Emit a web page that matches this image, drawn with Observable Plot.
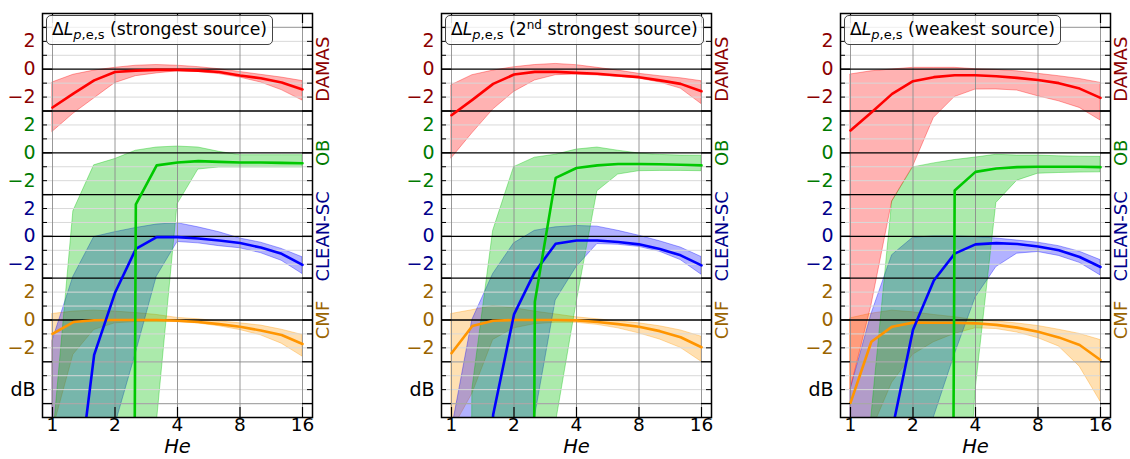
<!DOCTYPE html>
<html><head><meta charset="utf-8">
<script src="https://cdn.jsdelivr.net/npm/d3@7"></script>
<script src="https://cdn.jsdelivr.net/npm/@observablehq/plot@0.6"></script>
<style>
body{margin:0;background:#fff;font-family:"DejaVu Sans";}
#chart{position:relative;width:1130px;height:459px;overflow:hidden;background:#fff}
.panel{position:absolute;top:0;width:342px;height:459px}
.panel svg{max-width:none !important;width:342px;height:459px}
.title{position:absolute;top:15px;height:30px;box-sizing:border-box;border:1px solid #444;border-radius:5px;background:rgba(255,255,255,0.85);font-family:"DejaVu Sans";font-size:17.2px;line-height:27px;padding:0 5px;white-space:nowrap;color:#000}
.title sub{font-size:13px;vertical-align:-4px;line-height:0}
.title sup{font-size:12px;vertical-align:6px;line-height:0}
</style></head><body><div id="chart"></div>
<script>
// He axis (third-octave points)
const he = [1, 1.26, 1.587, 2, 2.52, 3.175, 4, 5.04, 6.35, 8, 10.08, 12.7, 16];
const xTicks = [1, 2, 4, 8, 16];
const methods = ["DAMAS", "OB", "CLEAN-SC", "CMF"];
const offsets = [0, -6, -12, -18];
const lineColors = ["#ff0000", "#00c800", "#0000ff", "#ff9500"];
const fillColors = ["#ff0000", "#00c000", "#0000ff", "#ff9900"];
const fillAlpha = [0.3, 0.33, 0.3, 0.3];
const labelColors = ["#8b0000", "#007a00", "#00008b", "#9a6400"];
const yTickValues = [2, 0, -2];
const yTickLabels = ["2", "0", "\u22122"];
const titles = ["strongest source", "2nd strongest source", "weakest source"];

// Panel 1: strongest source
const damasMean1 = [-2.75, -1.75, -0.8, -0.2, -0.1, -0.05, -0.05, -0.1, -0.2, -0.45, -0.65, -0.95, -1.45];
const damasHi1   = [-0.95, -0.4, -0.1, 0.1, 0.25, 0.3, 0.25, 0.15, 0.0, -0.2, -0.4, -0.6, -0.85];
const damasLo1   = [-4.5, -3.2, -2.1, -1.0, -0.5, -0.3, -0.15, -0.2, -0.35, -0.6, -0.95, -1.5, -2.25];
const obMean1    = [-300, -300, -300, -300, -3.7, -0.9, -0.7, -0.6, -0.65, -0.7, -0.7, -0.72, -0.75];
const obHi1      = [-21, -4.2, -0.9, -0.45, 0.15, 0.38, 0.45, 0.38, 0.07, -0.17, -0.17, -0.17, -0.17];
const obLo1      = [-300, -300, -300, -300, -300, -19.5, -3.7, -1.2, -1.05, -1.05, -1.05, -1.05, -1.05];
const cleanMean1 = [-300, -20.5, -8.5, -4.05, -0.9, -0.05, -0.05, -0.15, -0.3, -0.48, -0.8, -1.25, -2.05];
const cleanHi1   = [-7.5, -2.9, -0.05, 0.3, 0.6, 0.85, 0.95, 0.65, 0.3, -0.15, -0.45, -0.9, -1.5];
const cleanLo1   = [-300, -300, -300, -13.6, -8.4, -2.9, -0.4, -0.5, -0.7, -0.85, -1.2, -1.75, -2.7];
const cmfMean1   = [-1.0, -0.15, -0.02, 0, 0, 0, -0.05, -0.15, -0.3, -0.48, -0.75, -1.08, -1.72];
const cmfHi1     = [0.43, 0.6, 0.67, 0.6, 0.5, 0.36, 0.15, 0.05, -0.1, -0.24, -0.4, -0.7, -1.08];
const cmfLo1     = [-8, -2.5, -0.72, -0.24, -0.15, -0.15, -0.15, -0.25, -0.45, -0.72, -1.1, -1.7, -2.63];

// Panel 2: 2nd strongest source
const damasMean2 = [-3.3, -2.2, -1.05, -0.38, -0.19, -0.19, -0.26, -0.33, -0.45, -0.57, -0.8, -1.05, -1.58];
const damasHi2   = [-1.15, -0.43, -0.1, 0.14, 0.3, 0.38, 0.29, 0.1, -0.1, -0.33, -0.5, -0.65, -0.86];
const damasLo2   = [-6.4, -4.6, -2.9, -1.63, -0.81, -0.43, -0.38, -0.45, -0.55, -0.67, -0.95, -1.39, -2.5];
const obMean2    = [-300, -300, -300, -300, -10.7, -1.8, -1.09, -0.9, -0.8, -0.8, -0.82, -0.86, -0.9];
const obHi2      = [-300, -17, -5.6, -1.03, -0.35, -0.14, 0.23, 0.38, 0.15, -0.05, -0.15, -0.2, -0.21];
const obLo2      = [-300, -300, -300, -300, -300, -19.5, -10.8, -2.76, -1.56, -1.32, -1.3, -1.3, -1.32];
const cleanMean2 = [-300, -40, -12.8, -5.6, -2.55, -0.53, -0.29, -0.29, -0.4, -0.57, -0.9, -1.36, -2.08];
const cleanHi2   = [-14, -6, -2.7, -0.5, 0.4, 0.65, 0.75, 0.7, 0.4, 0.05, -0.35, -0.8, -1.48];
const cleanLo2   = [-300, -300, -300, -30, -13, -4.6, -2.2, -0.55, -0.6, -0.75, -1.1, -1.7, -2.75];
const cmfMean2   = [-2.39, -0.43, -0.05, 0, 0, 0, -0.03, -0.15, -0.3, -0.48, -0.8, -1.24, -1.96];
const cmfHi2     = [0.43, 0.7, 1.0, 0.85, 0.6, 0.4, 0.19, 0.05, -0.1, -0.24, -0.45, -0.75, -1.2];
const cmfLo2     = [-8, -5.3, -1.43, -0.6, -0.3, -0.2, -0.2, -0.35, -0.6, -0.96, -1.4, -2.0, -3.0];

// Panel 3: weakest source
const damasMean3 = [-4.4, -3.1, -1.77, -0.86, -0.57, -0.43, -0.43, -0.5, -0.62, -0.77, -1.0, -1.39, -2.06];
const damasHi3   = [-0.38, -0.15, -0.02, 0.1, 0.1, 0.1, 0.0, -0.05, -0.15, -0.33, -0.5, -0.7, -0.98];
const damasLo3   = [-23, -17, -9.5, -7.0, -3.5, -2.0, -1.46, -1.45, -1.53, -1.94, -2.3, -2.78, -3.68];
const obMean3    = [-300, -300, -300, -300, -300, -2.7, -1.37, -1.13, -1.03, -1.0, -1.0, -1.0, -1.03];
const obHi3      = [-300, -19, -3.5, -1.05, -0.76, -0.52, -0.34, -0.14, -0.2, -0.2, -0.25, -0.28, -0.29];
const obLo3      = [-300, -300, -300, -300, -300, -40, -17.1, -3.6, -2.0, -1.5, -1.45, -1.42, -1.4];
const cleanMean3 = [-300, -40, -13.9, -6.7, -3.17, -1.24, -0.57, -0.48, -0.55, -0.72, -1.0, -1.48, -2.2];
const cleanHi3   = [-11, -5.6, -1.35, -0.1, 0.0, 0.0, -0.05, -0.15, -0.3, -0.45, -0.7, -1.1, -1.7];
const cleanLo3   = [-300, -300, -300, -30, -13, -8.5, -4.4, -2.2, -1.24, -1.12, -1.4, -1.9, -2.8];
const cmfMean3   = [-5.95, -1.56, -0.48, -0.19, -0.2, -0.2, -0.24, -0.35, -0.55, -0.84, -1.25, -1.8, -2.87];
const cmfHi3     = [0.12, 0.45, 0.67, 0.55, 0.36, 0.2, 0.0, -0.1, -0.25, -0.43, -0.7, -1.0, -1.44];
const cmfLo3     = [-12, -8, -4.5, -2.5, -1.6, -1.0, -0.6, -0.65, -0.9, -1.3, -1.9, -3.35, -5.86];

const panelSeries = [
  [[damasMean1, damasHi1, damasLo1], [obMean1, obHi1, obLo1], [cleanMean1, cleanHi1, cleanLo1], [cmfMean1, cmfHi1, cmfLo1]],
  [[damasMean2, damasHi2, damasLo2], [obMean2, obHi2, obLo2], [cleanMean2, cleanHi2, cleanLo2], [cmfMean2, cmfHi2, cmfLo2]],
  [[damasMean3, damasHi3, damasLo3], [obMean3, obHi3, obLo3], [cleanMean3, cleanHi3, cleanLo3], [cmfMean3, cmfHi3, cmfLo3]]
];

const W = 342, H = 459, ML = 42, MR = 30, MT = 13, MB = 42;
const FW = W - ML - MR, FH = H - MT - MB;
const PANEL_STEP = 399;
const yDomain = [-25, 4];
const ints = d3.range(yDomain[0], yDomain[1] + 1);
// black lines: each method's zero and the boundaries between method sections
const blackLines = offsets.concat(offsets.slice(0, -1).map(o => o - 3));
const majorVals = ints.filter(v => v % 3 === 0);
const grayMajor = majorVals.filter(v => !blackLines.includes(v));
const minorVals = ints.filter(v => v % 3 !== 0);

const yLabels = methods.flatMap((name, m) => yTickValues.map((v, j) => ({y: offsets[m] + v, text: yTickLabels[j], color: labelColors[m]})))
  .concat([{y: offsets[3] - 5, text: "dB", color: "#000"}]);
const rightLabels = methods.map((name, m) => ({y: offsets[m], text: name, color: labelColors[m]}));

const chart = document.getElementById("chart");
const drawOrder = [3, 2, 1, 0];

panelSeries.forEach((series, p) => {
  const rows = series.map(([mean, hi, lo], m) => he.map((x, i) => ({he: x, mean: offsets[m] + mean[i], hi: offsets[m] + hi[i], lo: offsets[m] + lo[i]})));
  const marks = [];
  drawOrder.forEach(m => marks.push(Plot.areaY(rows[m], {x: "he", y1: "lo", y2: "hi", fill: fillColors[m], fillOpacity: fillAlpha[m], stroke: fillColors[m], strokeOpacity: 0.35, strokeWidth: 1, clip: true})));
  marks.push(
    Plot.ruleY(minorVals, {stroke: "#d9d9d9", strokeWidth: 1}),
    Plot.ruleY(grayMajor, {stroke: "#a8a8a8", strokeWidth: 1.3}),
    Plot.ruleX(xTicks, {stroke: "#8c8c8c", strokeWidth: 0.9}),
    Plot.ruleY(blackLines, {stroke: "#000", strokeWidth: 1.3})
  );
  drawOrder.forEach(m => marks.push(Plot.line(rows[m], {x: "he", y: "mean", stroke: lineColors[m], strokeWidth: 2.6, clip: true})));
  marks.push(
    Plot.ruleY(minorVals, {stroke: "#000", insetRight: FW - 5}),
    Plot.ruleY(majorVals, {stroke: "#000", strokeWidth: 1.3, insetRight: FW - 10}),
    Plot.ruleY(minorVals, {stroke: "#000", insetLeft: FW - 5}),
    Plot.ruleY(majorVals, {stroke: "#000", strokeWidth: 1.3, insetLeft: FW - 10}),
    Plot.ruleX(xTicks, {stroke: "#000", strokeWidth: 1.2, insetBottom: FH - 10}),
    Plot.ruleX(xTicks, {stroke: "#000", strokeWidth: 1.2, insetTop: FH - 10}),
    Plot.frame({stroke: "#000", strokeWidth: 1.5}),
    Plot.text(yLabels, {y: "y", text: "text", fill: "color", frameAnchor: "left", textAnchor: "end", dx: -7, fontSize: 19}),
    Plot.text(rightLabels, {y: "y", text: "text", fill: "color", frameAnchor: "right", textAnchor: "middle", rotate: -90, dx: 11, fontSize: 18}),
    Plot.text(xTicks, {x: d => d, text: d => String(d), frameAnchor: "bottom", dy: 13, fontSize: 18.5, fill: "#000"}),
    Plot.text(["He"], {text: d => d, frameAnchor: "bottom", dy: 35, fontSize: 19.5, fontStyle: "italic", fill: "#000"})
  );
  const svg = Plot.plot({
    width: W, height: H, marginLeft: ML, marginRight: MR, marginTop: MT, marginBottom: MB,
    x: {type: "log", domain: [2 ** -0.16, 2 ** 4.16], axis: null},
    y: {domain: yDomain, axis: null},
    color: {type: "identity"},
    style: {fontFamily: "DejaVu Sans", background: "transparent", overflow: "visible", maxWidth: "none"},
    marks
  });
  const wrap = document.createElement("div");
  wrap.className = "panel";
  wrap.style.left = (p * PANEL_STEP) + "px";
  wrap.appendChild(svg);
  chart.appendChild(wrap);

  const t = document.createElement("div");
  t.className = "title";
  t.style.left = (p * PANEL_STEP + ML + 4) + "px";
  const label = titles[p];
  const rest = label.startsWith("2nd") ? "(2<sup>nd</sup>" + label.slice(3) + ")" : "(" + label + ")";
  t.innerHTML = "\u0394<i>L</i><sub><i>p</i>,e,s</sub> " + rest;
  chart.appendChild(t);
});
</script>
</body></html>
